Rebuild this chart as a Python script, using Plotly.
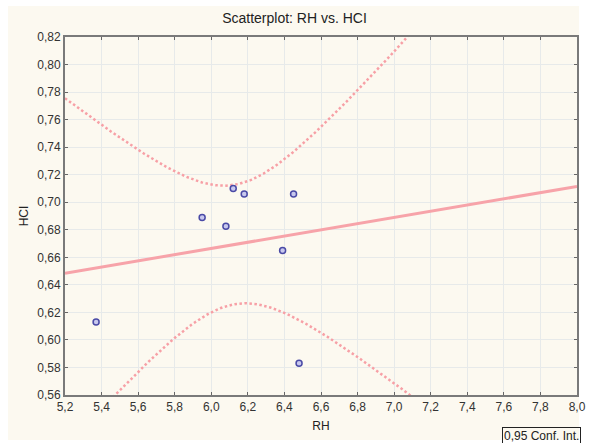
import numpy as np
import plotly.graph_objects as go

# Data
rh = [5.37, 5.95, 6.08, 6.12, 6.18, 6.45, 6.39, 6.48]
hci = [0.613, 0.689, 0.6825, 0.710, 0.706, 0.706, 0.665, 0.583]
x_ticks = [5.2, 5.4, 5.6, 5.8, 6.0, 6.2, 6.4, 6.6, 6.8, 7.0, 7.2, 7.4, 7.6, 7.8, 8.0]
y_ticks = [0.56, 0.58, 0.60, 0.62, 0.64, 0.66, 0.68, 0.70, 0.72, 0.74, 0.76, 0.78, 0.80, 0.82]

# Linear fit and 95% confidence band for the mean
x = np.array(rh)
y = np.array(hci)
n = len(x)
b, a = np.polyfit(x, y, 1)
resid = y - (a + b * x)
s = np.sqrt(np.sum(resid ** 2) / (n - 2))
sxx = np.sum((x - x.mean()) ** 2)
t975 = 2.446912  # t(0.975, df=6)
xf = np.linspace(5.2, 8.0, 300)
yf = a + b * xf
h = t975 * s * np.sqrt(1 / n + (xf - x.mean()) ** 2 / sxx)

fig = go.Figure()
fig.add_trace(go.Scatter(x=xf, y=yf + h, mode="lines",
                         line=dict(color="#f7a0a6", width=2.5, dash="2.5px,2.5px"), showlegend=False))
fig.add_trace(go.Scatter(x=xf, y=yf - h, mode="lines",
                         line=dict(color="#f7a0a6", width=2.5, dash="2.5px,2.5px"), showlegend=False))
fig.add_trace(go.Scatter(x=xf, y=yf, mode="lines",
                         line=dict(color="#f7a3a9", width=3), showlegend=False))
fig.add_trace(go.Scatter(x=rh, y=hci, mode="markers",
                         marker=dict(symbol="circle", size=6, color="#c8c8ee",
                                     line=dict(color="#4a4aa6", width=1.5)),
                         showlegend=False))

W, H = 589, 443
L, R, T, B = 65, 12, 37, 48
pw, ph = W - L - R, H - T - B

def px(xp):
    return (xp - L) / pw

def py(yp):
    return (H - B - yp) / ph

axis_common = dict(showgrid=True, gridcolor="#e7eaea", gridwidth=1, zeroline=False,
                   showline=True, linecolor="#7a7a7a", linewidth=2, mirror="allticks",
                   ticks="inside", ticklen=3, tickcolor="#666666", automargin=False,
                   tickfont=dict(family="Liberation Sans, Arial, sans-serif", size=12, color="#333333"))

fig.update_layout(
    width=W, height=H, autosize=False,
    margin=dict(l=L, r=R, t=T, b=B, autoexpand=False),
    paper_bgcolor="white", plot_bgcolor="white",
    separators=", ",
    font=dict(family="Liberation Sans, Arial, sans-serif", color="#222222"),
    title=dict(text="Scatterplot: RH vs. HCI", x=px(321), xanchor="center",
               y=1 - 18 / H, yanchor="middle", font=dict(size=14, color="#222222"),
               automargin=False),
    xaxis=dict(range=[5.2, 8.0], tickvals=x_ticks, tickformat=".1f",
               title=dict(text="RH", font=dict(size=12), standoff=8), **axis_common),
    yaxis=dict(range=[0.56, 0.82], tickvals=y_ticks, tickformat=".2f",
               title=dict(text="HCI", font=dict(size=12), standoff=6), **axis_common),
    shapes=[dict(type="rect", xref="paper", yref="paper", layer="below",
                 x0=px(8), x1=px(579), y0=py(440), y1=py(6),
                 fillcolor="#fcf9f0", line=dict(width=0))],
    annotations=[dict(text="0,95 Conf. Int.", xref="paper", yref="paper",
                      x=px(502), y=py(427), xanchor="left", yanchor="top",
                      showarrow=False, bordercolor="#222222", borderwidth=1,
                      borderpad=1, bgcolor="rgba(0,0,0,0)",
                      font=dict(size=12, color="#222222"))],
)

fig.write_html("out.html", config={"responsive": False})
